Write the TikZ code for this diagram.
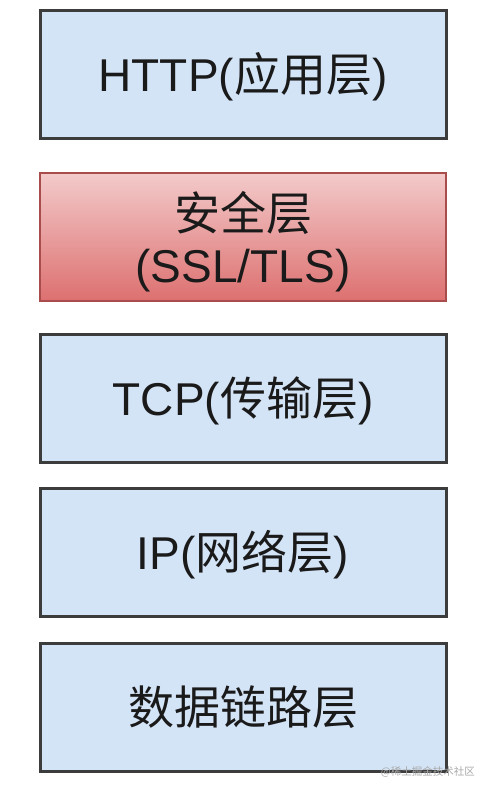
\documentclass[tikz,border=0pt]{standalone}
\usepackage{fontspec}
\setmainfont{Liberation Sans}
\newfontfamily\cjk{Noto Sans CJK SC}
\usetikzlibrary{positioning}
\definecolor{layerblue}{HTML}{D4E4F7}
\definecolor{layerborder}{HTML}{3C3C3C}
\definecolor{redtop}{HTML}{F3CACA}
\definecolor{redbot}{HTML}{DD7070}
\definecolor{redborder}{HTML}{A94C4C}
\definecolor{txt}{HTML}{1A1A1A}
\definecolor{wm}{HTML}{A8A8A8}
\tikzset{
  layer/.style={draw=layerborder, line width=3pt, fill=layerblue, minimum width=406pt, minimum height=128pt, inner sep=0pt, text=txt, font=\fontsize{46}{52}\selectfont, align=center, text height=44pt, text depth=10pt},
  seclayer/.style={draw=redborder, line width=2.5pt, top color=redtop, bottom color=redbot, minimum width=406pt, minimum height=128pt, inner sep=0pt},
  labeltext/.style={text=txt, font=\fontsize{46}{52}\selectfont, align=center, inner sep=0pt},
  watermark/.style={text=wm, font=\cjk\fontsize{10.5}{12}\selectfont, inner sep=0pt, anchor=east}
}
\begin{document}
\begin{tikzpicture}[x=1pt,y=1pt]
\useasboundingbox (0,0) rectangle (490,794);
\node[layer] (http) at (243,719.5) {HTTP({\cjk 应用层})};
\node[seclayer] (ssl) at (243,557) {};
\node[labeltext] (ssltext) at ([yshift=-5pt]ssl.center) {{\cjk 安全层}\\(SSL/TLS)};
\node[layer] (tcp) at (243,395) {TCP({\cjk 传输层})};
\node[layer] (ip) at (243,241) {IP({\cjk 网络层})};
\node[layer] (link) at (243,86) {{\cjk 数据链路层}};
\node[watermark] (wmk) at (475,22) {@稀土掘金技术社区};
\end{tikzpicture}
\end{document}
